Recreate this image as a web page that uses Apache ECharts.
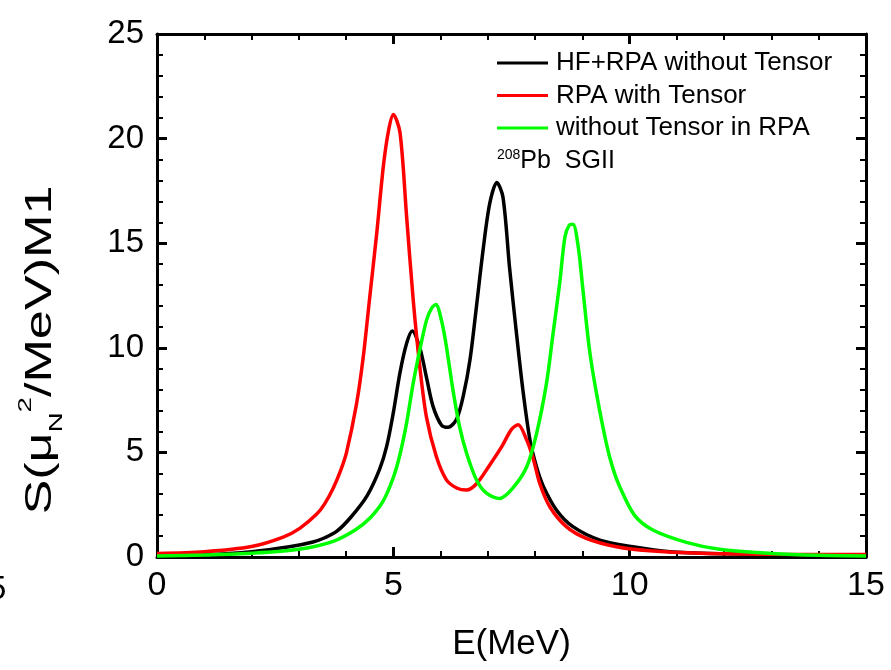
<!DOCTYPE html>
<html>
<head>
<meta charset="utf-8">
<script src="https://cdn.jsdelivr.net/npm/echarts@6/dist/echarts.min.js"></script>
<style>
html,body{margin:0;padding:0;background:#fff;}
#c{width:891px;height:670px;}
</style>
</head>
<body>
<div id="c"></div>
<script>
// ---- data ----
var seriesNames = ['HF+RPA without Tensor', 'RPA with Tensor', 'without Tensor in RPA'];
var xTicks = [0, 5, 10, 15];
var yTicks = [0, 5, 10, 15, 20, 25];

var blackE = [0, 1, 2, 2.8, 3.3, 3.55, 3.8, 4.1, 4.45, 4.71, 4.86, 5.0, 5.14, 5.28, 5.4, 5.56, 5.7, 5.84, 6.02, 6.16, 6.34, 6.48, 6.62, 6.76, 6.9, 7.04, 7.19, 7.32, 7.46, 7.6, 7.74, 7.89, 8.03, 8.17, 8.45, 8.8, 9.37, 10.07, 10.85, 12, 13.5, 15];
var blackS = [0.05, 0.1, 0.25, 0.49, 0.72, 0.92, 1.22, 1.9, 2.95, 4.2, 5.3, 6.9, 8.8, 10.2, 10.8, 10.0, 8.6, 7.2, 6.3, 6.2, 6.6, 7.7, 9.4, 12.0, 14.7, 16.9, 17.9, 17.2, 13.8, 10.8, 8.0, 5.6, 4.3, 3.4, 2.25, 1.45, 0.81, 0.49, 0.25, 0.15, 0.1, 0.07];

var redE = [0, 1, 2, 2.67, 3.02, 3.38, 3.55, 3.73, 3.88, 4.01, 4.22, 4.36, 4.5, 4.65, 4.79, 4.9, 5.0, 5.14, 5.28, 5.42, 5.56, 5.7, 5.91, 6.12, 6.34, 6.55, 6.76, 7.04, 7.3, 7.5, 7.64, 7.82, 7.96, 8.1, 8.31, 8.66, 9.08, 9.72, 10.42, 11.5, 13, 15];
var redS = [0.17, 0.25, 0.5, 0.95, 1.37, 2.05, 2.55, 3.3, 4.1, 5.0, 7.3, 9.5, 12.4, 15.5, 18.7, 20.4, 21.15, 20.3, 16.3, 12.3, 9.1, 6.7, 4.8, 3.7, 3.3, 3.2, 3.5, 4.4, 5.3, 6.1, 6.32, 5.6, 4.7, 3.5, 2.4, 1.45, 0.89, 0.49, 0.3, 0.18, 0.13, 0.12];

var greenE = [0, 1, 2, 3, 3.73, 4.2, 4.5, 4.79, 5.0, 5.14, 5.28, 5.42, 5.56, 5.7, 5.81, 5.9, 6.02, 6.12, 6.26, 6.4, 6.55, 6.76, 6.97, 7.25, 7.53, 7.82, 8.03, 8.24, 8.38, 8.52, 8.63, 8.72, 8.8, 8.91, 9.01, 9.15, 9.3, 9.51, 9.65, 9.79, 10.1, 10.49, 11.2, 11.9, 13, 14, 15];
var greenS = [0.05, 0.1, 0.18, 0.37, 0.75, 1.3, 1.85, 2.7, 3.8, 4.9, 6.4, 8.3, 9.9, 11.3, 11.9, 12.07, 11.3, 10.1, 8.0, 6.24, 4.96, 3.68, 3.05, 2.8, 3.3, 4.3, 5.9, 8.3, 10.7, 13.1, 15.3, 15.85, 15.9, 14.85, 12.8, 9.9, 7.8, 5.4, 4.2, 3.36, 2.0, 1.29, 0.7, 0.37, 0.17, 0.08, 0.05];

function zip(a, b) { return a.map(function (v, i) { return [v, b[i]]; }); }

var FONT = '"Liberation Sans", Arial, sans-serif';

var chart = echarts.init(document.getElementById('c'));

function axisCommon() {
  return {
    axisLine: { show: true, onZero: false, lineStyle: { color: '#000', width: 3 } },
    axisTick: { show: true, inside: true, length: 10, lineStyle: { color: '#000', width: 3 } },
    minorTick: { show: true, splitNumber: 5, length: 6, lineStyle: { color: '#000', width: 2 } },
    splitLine: { show: false },
    minorSplitLine: { show: false }
  };
}

var option = {
  backgroundColor: '#fff',
  animation: false,
  grid: { left: 157, top: 34, width: 709, height: 523, containLabel: false },
  legend: {
    orient: 'vertical',
    left: 492,
    top: 45,
    icon: 'rect',
    itemWidth: 51,
    itemHeight: 3,
    itemGap: 6.5,
    textStyle: { fontFamily: FONT, fontSize: 26, color: '#000', lineHeight: 26, padding: [0, 0, 0, 3] },
    data: seriesNames
  },
  xAxis: [
    Object.assign(axisCommon(), {
      type: 'value', position: 'bottom', min: 0, max: 15, interval: 5,
      name: 'E(MeV)', nameLocation: 'middle', nameGap: 70,
      nameTextStyle: { fontFamily: FONT, fontSize: 35, color: '#000' },
      axisLabel: { show: true, margin: 12, fontFamily: FONT, fontSize: 34, color: '#000',
        formatter: function (v) { return xTicks.indexOf(v) >= 0 ? String(v) : ''; } }
    }),
    Object.assign(axisCommon(), {
      type: 'value', position: 'top', min: 0, max: 15, interval: 5,
      axisLabel: { show: false }
    })
  ],
  yAxis: [
    Object.assign(axisCommon(), {
      type: 'value', position: 'left', min: 0, max: 25, interval: 5,
      axisLabel: { show: true, margin: 13, fontFamily: FONT, fontSize: 33, color: '#000',
        formatter: function (v) { return yTicks.indexOf(v) >= 0 ? String(v) : ''; } }
    }),
    Object.assign(axisCommon(), {
      type: 'value', position: 'right', min: 0, max: 25, interval: 5,
      axisLabel: { show: false }
    })
  ],
  graphic: [
    {
      type: 'text', x: 41, y: 350, rotation: Math.PI / 2, scaleX: 1.45, scaleY: 1,
      style: {
        text: '{a|S(μ}{sub|N}{sup|2}{a|/MeV)M1}',
        align: 'center', verticalAlign: 'middle',
        rich: {
          a: { fontFamily: FONT, fontSize: 36, fill: '#000', lineHeight: 50, verticalAlign: 'middle' },
          sub: { fontFamily: FONT, fontSize: 19, fill: '#000', lineHeight: 21, verticalAlign: 'bottom' },
          sup: { fontFamily: FONT, fontSize: 19, fill: '#000', lineHeight: 21, verticalAlign: 'top' }
        }
      }
    },
    {
      type: 'text', left: 497, top: 148,
      style: {
        text: '{s|208}{b|Pb  SGII}',
        rich: {
          s: { fontFamily: FONT, fontSize: 14, fill: '#000', lineHeight: 26, verticalAlign: 'top' },
          b: { fontFamily: FONT, fontSize: 25, fill: '#000', lineHeight: 26, verticalAlign: 'bottom' }
        }
      }
    },
    {
      type: 'text', left: -12, top: 573,
      style: { text: '5', fontFamily: FONT, fontSize: 33, fill: '#000' }
    }
  ],
  series: [
    { name: seriesNames[0], type: 'line', data: zip(blackE, blackS), showSymbol: false, symbol: 'none',
      smooth: 0.3, lineStyle: { color: '#000000', width: 3.5 }, itemStyle: { color: '#000000' } },
    { name: seriesNames[1], type: 'line', data: zip(redE, redS), showSymbol: false, symbol: 'none',
      smooth: 0.3, lineStyle: { color: '#ff0000', width: 3.5 }, itemStyle: { color: '#ff0000' } },
    { name: seriesNames[2], type: 'line', data: zip(greenE, greenS), showSymbol: false, symbol: 'none',
      smooth: 0.3, lineStyle: { color: '#00ff00', width: 3.5 }, itemStyle: { color: '#00ff00' } }
  ]
};
chart.setOption(option);
</script>
</body>
</html>
